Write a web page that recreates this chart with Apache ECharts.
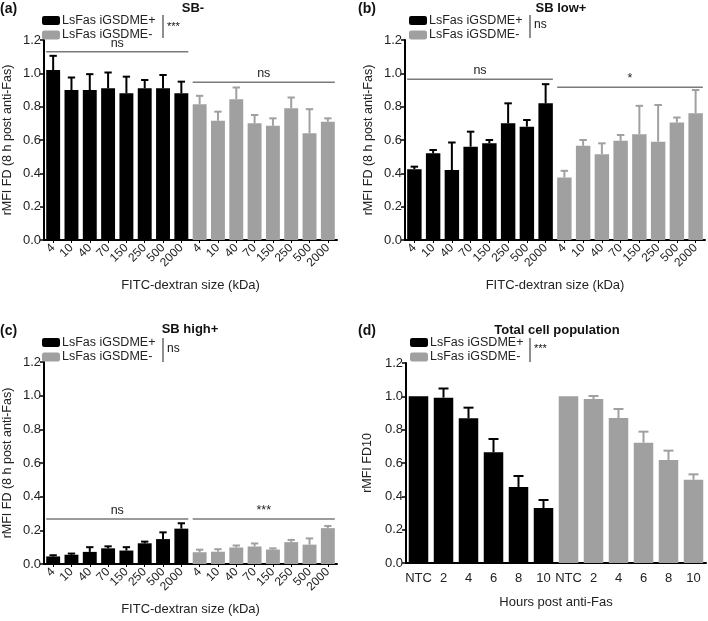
<!DOCTYPE html>
<html>
<head>
<meta charset="utf-8">
<script src="https://cdn.jsdelivr.net/npm/echarts@6/dist/echarts.min.js"></script>
<style>
  html, body { margin: 0; padding: 0; background: #fff; }
  #chart { width: 708px; height: 621px; }
</style>
</head>
<body>
<div id="chart"></div>
<script>
  // x categories
  var sizes = ['4', '10', '40', '70', '150', '250', '500', '2000']
  var hours = ['NTC', '2', '4', '6', '8', '10']
  var seriesNames = ['LsFas iGSDME+', 'LsFas iGSDME-']
  var yTicks = [0, 0.2, 0.4, 0.6, 0.8, 1.0, 1.2]

  // (a) SB-
  var aPosMean = [1.02, 0.90, 0.90, 0.91, 0.88, 0.91, 0.91, 0.88]
  var aPosErr = [0.085, 0.075, 0.095, 0.095, 0.10, 0.05, 0.08, 0.07]
  var aNegMean = [0.815, 0.715, 0.845, 0.70, 0.685, 0.79, 0.64, 0.71]
  var aNegErr = [0.05, 0.055, 0.07, 0.05, 0.045, 0.065, 0.145, 0.02]
  var aSigY = [1.13, 0.946]
  var aSigText = ['ns', 'ns']

  // (b) SB low+
  var bPosMean = [0.425, 0.52, 0.42, 0.56, 0.58, 0.70, 0.68, 0.82]
  var bPosErr = [0.015, 0.02, 0.165, 0.09, 0.02, 0.12, 0.04, 0.115]
  var bNegMean = [0.375, 0.565, 0.515, 0.595, 0.635, 0.59, 0.705, 0.76]
  var bNegErr = [0.04, 0.035, 0.065, 0.035, 0.17, 0.22, 0.03, 0.14]
  var bSigY = [0.964, 0.916]
  var bSigText = ['ns', '*']

  // (c) SB high+
  var cPosMean = [0.045, 0.055, 0.072, 0.093, 0.08, 0.123, 0.148, 0.21]
  var cPosErr = [0.007, 0.007, 0.028, 0.012, 0.02, 0.01, 0.04, 0.032]
  var cNegMean = [0.07, 0.073, 0.098, 0.104, 0.086, 0.13, 0.115, 0.213]
  var cNegErr = [0.015, 0.015, 0.012, 0.018, 0.007, 0.013, 0.037, 0.013]
  var cSigY = [0.267, 0.267]
  var cSigText = ['ns', '***']

  // (d) Total cell population
  var dPosMean = [1.0, 0.992, 0.868, 0.664, 0.456, 0.33]
  var dPosErr = [0, 0.055, 0.064, 0.08, 0.066, 0.048]
  var dNegMean = [1.0, 0.984, 0.87, 0.722, 0.618, 0.50]
  var dNegErr = [0, 0.018, 0.054, 0.066, 0.056, 0.032]

  var FONT = "'Liberation Sans', Arial, sans-serif"
  var BLACK = '#000000'
  var GREY = '#a0a0a0'

  var chart = echarts.init(document.getElementById('chart'))

  function padded (vals, before, after) {
    var out = []
    for (var i = 0; i < before; i++) out.push('-')
    vals.forEach(function (v) { out.push(v) })
    for (var j = 0; j < after; j++) out.push('-')
    return out
  }

  function errData (means, errs, offset) {
    return means.map(function (m, i) { return [i + offset, m, errs[i]] })
  }

  function errRender (params, api) {
    var e = api.value(2)
    if (!e) return
    var i = api.value(0)
    var m = api.value(1)
    var base = api.coord([i, m])
    var top = api.coord([i, m + e])
    var half = api.size([1, 0])[0] * 0.2
    var col = api.visual('color')
    return {
      type: 'group',
      children: [
        { type: 'line', shape: { x1: base[0], y1: base[1], x2: top[0], y2: top[1] }, style: { stroke: col, lineWidth: 2 } },
        { type: 'line', shape: { x1: top[0] - half, y1: top[1], x2: top[0] + half, y2: top[1] }, style: { stroke: col, lineWidth: 2 } }
      ]
    }
  }

  function sigRender (labels, ratio) {
    return function (params, api) {
      var s = api.coord([api.value(0), api.value(2)])
      var e = api.coord([api.value(1), api.value(2)])
      var half = api.size([1, 0])[0] * ratio / 2
      return {
        type: 'group',
        children: [
          { type: 'line', shape: { x1: s[0] - half, y1: s[1], x2: e[0] + half, y2: e[1] }, style: { stroke: '#7a7a7a', lineWidth: 1.5 } },
          { type: 'text', x: (s[0] + e[0]) / 2, y: s[1] - 2, style: { text: labels[params.dataIndex], align: 'center', verticalAlign: 'bottom', fontSize: 12.5, fontFamily: FONT, fill: '#222' } }
        ]
      }
    }
  }

  var grids = [
    { left: 41, top: 40, width: 296, height: 200 },
    { left: 405, top: 40, width: 300, height: 200 },
    { left: 41, top: 362, width: 296, height: 202 },
    { left: 406, top: 363, width: 300, height: 200 }
  ]

  function xAxisFor (idx, cats, rotate, name, gap) {
    return {
      type: 'category',
      gridIndex: idx,
      data: cats.concat(cats),
      axisLine: { lineStyle: { color: '#000', width: 2 } },
      axisTick: { show: !!rotate, alignWithLabel: true, length: 3, lineStyle: { color: '#000', width: 1 } },
      axisLabel: { rotate: rotate, fontSize: rotate ? 12 : 13, fontFamily: FONT, color: '#222', margin: rotate ? 6 : 9, interval: 0 },
      name: name,
      nameLocation: 'middle',
      nameGap: gap,
      nameTextStyle: { fontSize: 13, fontFamily: FONT, color: '#222' }
    }
  }

  function yAxisFor (idx, name, gap) {
    return {
      type: 'value',
      gridIndex: idx,
      min: yTicks[0],
      max: yTicks[yTicks.length - 1],
      interval: 0.2,
      splitLine: { show: false },
      axisLine: { show: true, lineStyle: { color: '#000', width: 2 } },
      axisTick: { show: true, length: 4, lineStyle: { color: '#000', width: 1.5 } },
      axisLabel: { fontSize: 13, fontFamily: FONT, color: '#222', margin: 3, formatter: function (v) { return v.toFixed(1) } },
      name: name,
      nameLocation: 'middle',
      nameGap: gap,
      nameTextStyle: { fontSize: 12.5, fontFamily: FONT, color: '#222' }
    }
  }

  var series = []
  function addPanel (idx, posMean, posErr, negMean, negErr, width, sigY, sigText) {
    var n = posMean.length
    series.push({
      name: seriesNames[0], type: 'bar', xAxisIndex: idx, yAxisIndex: idx,
      data: padded(posMean, 0, n), barWidth: width, barGap: '-100%',
      itemStyle: { color: BLACK }
    })
    series.push({
      name: seriesNames[1], type: 'bar', xAxisIndex: idx, yAxisIndex: idx,
      data: padded(negMean, n, 0), barWidth: width, barGap: '-100%',
      itemStyle: { color: GREY }
    })
    series.push({
      name: seriesNames[0], type: 'custom', xAxisIndex: idx, yAxisIndex: idx,
      data: errData(posMean, posErr, 0), renderItem: errRender,
      encode: { x: 0, y: 1 }, itemStyle: { color: BLACK }, z: 3
    })
    series.push({
      name: seriesNames[1], type: 'custom', xAxisIndex: idx, yAxisIndex: idx,
      data: errData(negMean, negErr, n), renderItem: errRender,
      encode: { x: 0, y: 1 }, itemStyle: { color: GREY }, z: 3
    })
    if (sigY) {
      series.push({
        name: 'sig' + idx, type: 'custom', xAxisIndex: idx, yAxisIndex: idx,
        data: [[0, n - 1, sigY[0]], [n, 2 * n - 1, sigY[1]]],
        renderItem: sigRender(sigText, parseFloat(width) / 100),
        encode: { x: [0, 1], y: 2 }, silent: true, z: 3
      })
    }
  }

  addPanel(0, aPosMean, aPosErr, aNegMean, aNegErr, '76%', aSigY, aSigText)
  addPanel(1, bPosMean, bPosErr, bNegMean, bNegErr, '77%', bSigY, bSigText)
  addPanel(2, cPosMean, cPosErr, cNegMean, cNegErr, '76%', cSigY, cSigText)
  addPanel(3, dPosMean, dPosErr, dNegMean, dNegErr, '78%', null, null)

  function legendAt (left, top) {
    return {
      data: seriesNames, orient: 'vertical', left: left, top: top, padding: 0,
      itemWidth: 18, itemHeight: 9, itemGap: 1.5,
      textStyle: { fontSize: 12.5, fontFamily: FONT, color: '#222', padding: [0, 0, 0, -3] },
      selectedMode: false
    }
  }

  function txt (x, y, text, size, bold, align) {
    return {
      type: 'text', x: x, y: y,
      style: { text: text, fontSize: size, fontWeight: bold ? 'bold' : 'normal', fontFamily: FONT, fill: '#111', align: align || 'left', verticalAlign: 'middle' }
    }
  }
  function vline (x, y1, y2) {
    return { type: 'line', shape: { x1: x, y1: y1, x2: x, y2: y2 }, style: { stroke: '#444', lineWidth: 1.2 } }
  }

  chart.setOption({
    animation: false,
    grid: grids,
    xAxis: [
      xAxisFor(0, sizes, 45, 'FITC-dextran size (kDa)', 39),
      xAxisFor(1, sizes, 45, 'FITC-dextran size (kDa)', 39),
      xAxisFor(2, sizes, 45, 'FITC-dextran size (kDa)', 39),
      xAxisFor(3, hours, 0, 'Hours post anti-Fas', 33)
    ],
    yAxis: [
      yAxisFor(0, 'rMFI FD (8 h post anti-Fas)', 30),
      yAxisFor(1, 'rMFI FD (8 h post anti-Fas)', 30),
      yAxisFor(2, 'rMFI FD (8 h post anti-Fas)', 30),
      yAxisFor(3, 'rMFI FD10', 32)
    ],
    legend: [
      legendAt(42, 14),
      legendAt(409, 14),
      legendAt(42, 336),
      legendAt(410, 336)
    ],
    series: series,
    graphic: [
      txt(0, 9, '(a)', 14, true), txt(358, 9, '(b)', 14, true),
      txt(0, 331, '(c)', 14, true), txt(358, 331, '(d)', 14, true),
      txt(193, 8, 'SB-', 13, true, 'center'),
      txt(561, 8, 'SB low+', 13, true, 'center'),
      txt(190, 329, 'SB high+', 13, true, 'center'),
      txt(557, 330, 'Total cell population', 13, true, 'center'),
      vline(163, 15, 38), txt(167, 27, '***', 11),
      vline(530, 15, 38), txt(534, 25, 'ns', 12),
      vline(163, 338, 362), txt(167, 349, 'ns', 12),
      vline(530, 338, 362), txt(534, 349, '***', 11)
    ]
  })
</script>
</body>
</html>
